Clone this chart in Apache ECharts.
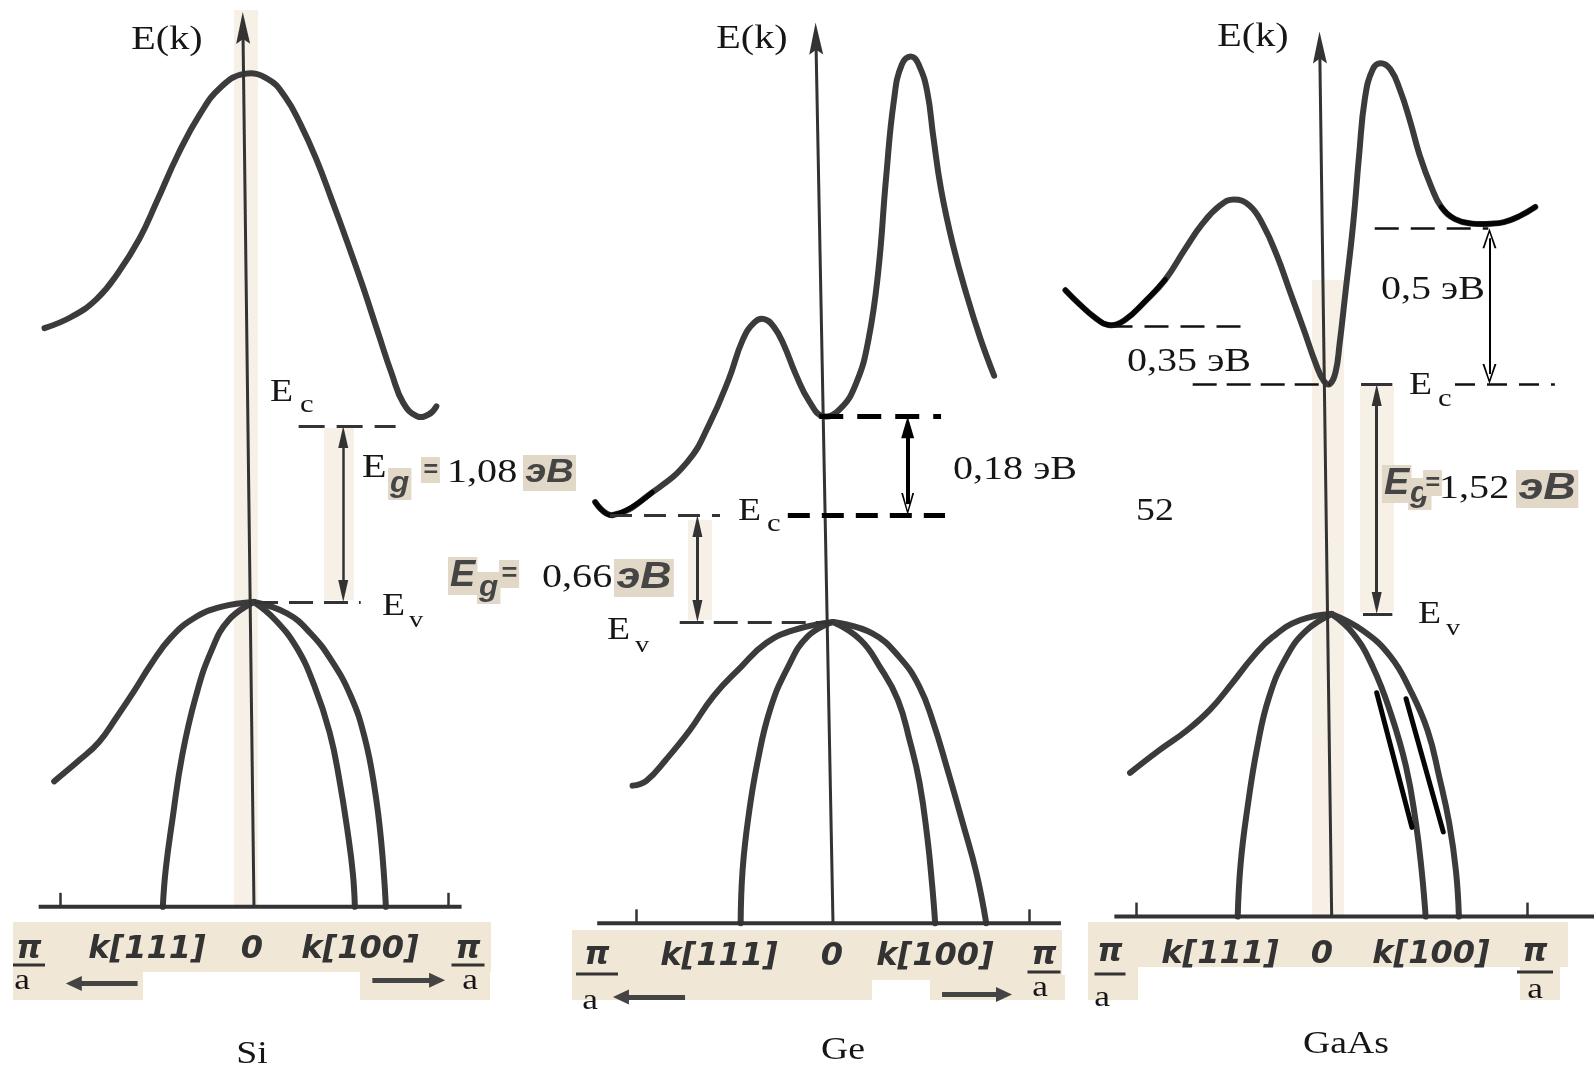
<!DOCTYPE html>
<html>
<head>
<meta charset="utf-8">
<script src="https://cdn.jsdelivr.net/npm/echarts@6/dist/echarts.min.js"></script>
<style>
  html, body { margin: 0; padding: 0; background: #fff; }
  #chart { width: 1594px; height: 1068px; }
</style>
</head>
<body>
<div id="chart"></div>
<script>
// k in units of pi/a, E in eV counted from the valence band top Ev of each crystal

const materials = ['Si', 'Ge', 'GaAs']
const kLabels = ['k[111]', '0', 'k[100]']
const gapLabels = ['1,08', '0,66', '1,52']
const sideGapLabels = ['0,18', '0,35', '0,5']

const ecLevel = [1.08, 0.66, 1.52]      // conduction band bottom
const kAxisLevel = [-1.87, -1.86, -2.0] // where the k axis is drawn
const geGammaLevel = 1.27
const gaasSideLevels = [1.90, 2.55]     // L and X valleys

// Si
const siUpper = [[-1.08,1.68],[-0.94,1.75],[-0.81,1.86],[-0.70,2.02],[-0.59,2.23],[-0.50,2.46],[-0.39,2.75],[-0.28,2.99],[-0.17,3.16],[-0.05,3.24],[0.07,3.21],[0.16,3.10],[0.24,2.93],[0.32,2.72],[0.40,2.47],[0.48,2.21],[0.56,1.94],[0.64,1.65],[0.71,1.40],[0.77,1.22],[0.84,1.14],[0.90,1.15],[0.94,1.20]]
const siOuterL = [[0,0],[-0.17,-0.03],[-0.31,-0.10],[-0.43,-0.22],[-0.53,-0.38],[-0.62,-0.55],[-0.71,-0.71],[-0.80,-0.86],[-0.90,-0.97],[-1.03,-1.10]]
const siInnerL = [[0,0],[-0.13,-0.11],[-0.22,-0.30],[-0.30,-0.58],[-0.37,-0.94],[-0.42,-1.33],[-0.455,-1.64],[-0.47,-1.87]]
const siInnerR = [[0,0],[0.11,-0.11],[0.22,-0.28],[0.31,-0.51],[0.39,-0.80],[0.44,-1.09],[0.485,-1.43],[0.51,-1.67],[0.52,-1.87]]
const siOuterR = [[0,0],[0.17,-0.07],[0.29,-0.19],[0.40,-0.36],[0.50,-0.58],[0.57,-0.83],[0.62,-1.13],[0.655,-1.46],[0.68,-1.87]]

// Ge
const geUpper = [[-1.21,0.74],[-1.12,0.66],[-0.92,0.80],[-0.74,0.99],[-0.63,1.22],[-0.53,1.50],[-0.46,1.74],[-0.40,1.85],[-0.35,1.87],[-0.30,1.82],[-0.25,1.71],[-0.19,1.53],[-0.12,1.36],[-0.05,1.27],[0.04,1.32],[0.12,1.48],[0.18,1.74],[0.23,2.16],[0.27,2.74],[0.31,3.22],[0.35,3.44],[0.40,3.49],[0.44,3.43],[0.48,3.27],[0.51,3.00],[0.55,2.67],[0.61,2.33],[0.68,2.02],[0.75,1.75],[0.82,1.52]]
const geOuterL = [[0,0],[-0.20,-0.05],[-0.34,-0.13],[-0.47,-0.28],[-0.61,-0.46],[-0.73,-0.67],[-0.85,-0.85],[-0.95,-0.98],[-1.02,-1.01]]
const geInnerL = [[0,0],[-0.13,-0.09],[-0.23,-0.28],[-0.32,-0.54],[-0.385,-0.87],[-0.43,-1.20],[-0.46,-1.53],[-0.47,-1.86]]
const geInnerR = [[0,0],[0.14,-0.11],[0.24,-0.28],[0.33,-0.48],[0.39,-0.73],[0.44,-0.99],[0.48,-1.33],[0.505,-1.63],[0.52,-1.86]]
const geOuterR = [[0,0],[0.20,-0.07],[0.34,-0.22],[0.44,-0.40],[0.51,-0.62],[0.58,-0.90],[0.66,-1.24],[0.73,-1.55],[0.78,-1.86]]

// GaAs
const gaasUpper = [[-1.36,2.14],[-1.29,2.05],[-1.21,1.96],[-1.14,1.91],[-1.06,1.94],[-0.95,2.07],[-0.85,2.21],[-0.75,2.41],[-0.66,2.58],[-0.57,2.70],[-0.50,2.74],[-0.42,2.70],[-0.35,2.57],[-0.28,2.37],[-0.21,2.12],[-0.14,1.87],[-0.08,1.65],[-0.04,1.54],[-0.01,1.52],[0.02,1.60],[0.04,1.78],[0.07,2.12],[0.11,2.58],[0.14,3.03],[0.17,3.41],[0.21,3.60],[0.25,3.64],[0.30,3.60],[0.35,3.46],[0.40,3.26],[0.45,3.03],[0.51,2.82],[0.56,2.69],[0.63,2.61],[0.72,2.58],[0.81,2.58],[0.88,2.59],[0.96,2.63],[1.04,2.69]]
const gaasOuterL = [[0,0],[-0.16,-0.04],[-0.30,-0.15],[-0.40,-0.28],[-0.51,-0.46],[-0.62,-0.63],[-0.74,-0.77],[-0.88,-0.90],[-1.03,-1.05]]
const gaasInnerL = [[0,0],[-0.13,-0.11],[-0.23,-0.28],[-0.32,-0.55],[-0.38,-0.88],[-0.43,-1.28],[-0.465,-1.65],[-0.48,-2.00]]
const gaasInnerR = [[0,0],[0.11,-0.13],[0.21,-0.35],[0.30,-0.65],[0.38,-1.01],[0.43,-1.38],[0.46,-1.70],[0.48,-2.00]]
const gaasOuterR = [[0,0],[0.16,-0.11],[0.30,-0.28],[0.40,-0.50],[0.49,-0.77],[0.55,-1.08],[0.60,-1.38],[0.635,-1.70],[0.65,-2.00]]
const gaasRetouchInner = [[0.23,-0.52],[0.41,-1.41]]
const gaasRetouchOuter = [[0.38,-0.56],[0.57,-1.44]]

const bands = [
    [siUpper, siOuterL, siInnerL, siInnerR, siOuterR],
    [geUpper, geOuterL, geInnerL, geInnerR, geOuterR],
    [gaasUpper, gaasOuterL, gaasInnerL, gaasInnerR, gaasOuterR]
]

// where each panel sits on the page: k=0 column, px per pi/a, Ev row, px per eV
const panels = [
    { x0: 254, kpx: 194, yEv: 602, epx: 163, kMin: -1.3, kMax: 1.3, eMin: -2.5, eMax: 3.65 },
    { x0: 833, kpx: 196.5, yEv: 622, epx: 162, kMin: -1.3, kMax: 1.3, eMin: -2.5, eMax: 3.75 },
    { x0: 1332, kpx: 196, yEv: 614, epx: 151.3, kMin: -1.4, kMax: 1.34, eMin: -2.2, eMax: 3.95 }
]

const SERIF = '"Liberation Serif", "DejaVu Serif", serif'
const SANS = '"Liberation Sans", Arial, sans-serif'
const DSANS = '"DejaVu Sans", sans-serif'
const INK = '#3b3b3b'
const BEIGE = '#f1e7d6'
const PALE = '#f6f0e6'
const TAG = '#e2d8c8'

const headFilled = 'path://M5,0L10,22L0,22Z'
const headAxis = 'path://M5,0L10,26L5,22L0,26Z'
const headOpen = 'path://M5,0L10,16L8.6,16L5,3.6L1.4,16L0,16Z'

const seg = (a, b, style, s0, s1, size) => [
    { coord: a, symbol: s0 || 'none', symbolSize: size || 10, lineStyle: style },
    { coord: b, symbol: s1 || 'none', symbolSize: size || 10 }
]

// vertical double arrow, shortened so that the heads touch the levels
const vArrow = (p, k, eTop, eBottom, style, headTop, headBottom, size) => {
    const d = size[1] / 2 / p.epx
    return seg([k, eTop - d], [k, eBottom + d], style, headTop, headBottom, size)
}

const hArrow = (p, k1, k2, e) => {
    const d = 8 / p.kpx * Math.sign(k2 - k1)
    return seg([k1, e], [k2 - d, e], { color: '#444', width: 5, type: 'solid' }, 'none', headFilled, [15, 16])
}

const solid = (w, c) => ({ color: c || '#333', width: w, type: 'solid' })
const dashed = (w, c, dash) => ({ color: c || '#333', width: w, type: dash || [24, 12] })

const ticks = (i) => {
    const p = panels[i], e = kAxisLevel[i], h = 14 / p.epx
    return [seg([-1, e], [-1, e + h], solid(2.5)), seg([1, e], [1, e + h], solid(2.5))]
}

const axisArrow = (i, kTop, eTop) => {
    const p = panels[i]
    return seg([0, kAxisLevel[i]], [kTop, eTop - 16 / p.epx], solid(3), 'none', headAxis, [14, 32])
}

const marks = [
    [
        axisArrow(0, -0.057, 3.62),
        ...ticks(0),
        seg([0.23, ecLevel[0]], [0.73, ecLevel[0]], dashed(3, '#333', [26, 12])),
        seg([0, 0], [0.55, 0], dashed(3, '#333', [24, 11])),
        vArrow(panels[0], 0.46, ecLevel[0], 0, solid(2.5), headFilled, headFilled, [10, 22]),
        hArrow(panels[0], -0.60, -0.97, -2.34),
        hArrow(panels[0], 0.61, 0.985, -2.32)
    ],
    [
        axisArrow(1, -0.087, 3.70),
        ...ticks(1),
        seg([-1.135, ecLevel[1]], [-0.575, ecLevel[1]], dashed(3, '#333', [22, 12])),
        seg([-0.23, ecLevel[1]], [0.57, ecLevel[1]], dashed(5, '#000', [22, 12])),
        seg([-0.07, geGammaLevel], [0.55, geGammaLevel], dashed(5, '#000', [24, 14])),
        vArrow(panels[1], 0.38, geGammaLevel, ecLevel[1], solid(4, '#000'), headFilled, headOpen, [13, 22]),
        vArrow(panels[1], -0.69, ecLevel[1], 0, solid(3), headFilled, headFilled, [10, 22]),
        seg([-0.78, 0], [0, 0], dashed(3, '#333', [24, 10])),
        hArrow(panels[1], -0.753, -1.12, -2.315),
        hArrow(panels[1], 0.555, 0.911, -2.30)
    ],
    [
        axisArrow(2, -0.061, 3.85),
        ...ticks(2),
        seg([-1.14, gaasSideLevels[0]], [-0.45, gaasSideLevels[0]], dashed(2.5, '#111', [24, 12])),
        seg([0.22, gaasSideLevels[1]], [0.80, gaasSideLevels[1]], dashed(2.5, '#111', [24, 12])),
        seg([-0.71, ecLevel[2]], [-0.01, ecLevel[2]], dashed(2.5, '#111', [24, 10])),
        seg([0.15, ecLevel[2]], [0.31, ecLevel[2]], solid(3)),
        seg([0.63, ecLevel[2]], [1.14, ecLevel[2]], dashed(2.5, '#111', [20, 12])),
        vArrow(panels[2], 0.806, gaasSideLevels[1], ecLevel[2], solid(2, '#000'), headOpen, headOpen, [14, 20]),
        vArrow(panels[2], 0.23, ecLevel[2], 0, solid(3), headFilled, headFilled, [10, 22]),
        seg([0.16, 0], [0.31, 0], solid(3))
    ]
]

const axisSpan = [[-1.11, 1.07], [-1.2, 1.16], [-1.11, 1.34]]

const grids = panels.map(p => ({
    left: p.x0 + p.kpx * p.kMin,
    width: p.kpx * (p.kMax - p.kMin),
    top: p.yEv - p.epx * p.eMax,
    height: p.epx * (p.eMax - p.eMin)
}))

// a band curve: the points go through the axes with api.coord and are joined by a smooth spline
const curve = (i, data, color, width) => ({
    type: 'custom', xAxisIndex: i, yAxisIndex: i, data, silent: true, z: 3,
    renderItem: (params, api) => params.dataIndex !== 0 ? null : {
        type: 'polyline',
        shape: { points: data.map(d => api.coord(d)), smooth: 0.45 },
        style: { stroke: color || INK, lineWidth: width || 6, fill: null, lineCap: 'round', lineJoin: 'round' }
    }
})

const series = []
bands.forEach((list, i) => {
    list.forEach(d => series.push(curve(i, d)))
    series.push({
        type: 'line', xAxisIndex: i, yAxisIndex: i, z: 4,
        data: axisSpan[i].map(k => [k, kAxisLevel[i]]),
        symbol: 'none', clip: false, silent: true,
        lineStyle: { color: '#333', width: 4 },
        markLine: {
            silent: true, animation: false, symbol: ['none', 'none'],
            label: { show: false }, emphasis: { disabled: true },
            data: marks[i]
        }
    })
})
// retouched (pure black) pieces of the scan
series.push(curve(1, geUpper.slice(0, 3), '#050505', 5))
series.push(curve(2, gaasUpper.slice(0, 7), '#050505', 5))
series.push(curve(2, gaasUpper.slice(32), '#050505', 5))
series.push(curve(2, gaasRetouchInner, '#050505', 5))
series.push(curve(2, gaasRetouchOuter, '#050505', 5))

// ---- text and paper patches ----
const T = (x, y, text, o = {}) => ({
    type: 'text', x, y, z: 50, silent: true, scaleX: o.sx ?? (o.ff ? 1 : 1.18),
    style: {
        text, fontFamily: o.ff || SERIF, fontSize: o.fs || 34,
        fontWeight: o.bold ? 'bold' : 'normal', fontStyle: o.it ? 'italic' : 'normal',
        fill: o.c || '#161616',
        align: o.al || 'left', verticalAlign: 'middle',
        textAlign: o.al || 'left', textVerticalAlign: 'middle',
        backgroundColor: o.bg, padding: o.bg ? [1, 2, 1, 2] : 0
    }
})
const tag = (x, y, text, fs, sx) => T(x, y, text, { ff: SANS, bold: true, it: true, fs, c: '#454545', bg: TAG, sx: sx || 1.05 })
const kTxt = (x, y, text) => T(x, y, text, { ff: DSANS, bold: true, it: true, fs: 32, c: '#333', al: 'center', sx: 1 })
const bar = (x1, x2, y) => ({ type: 'line', z: 50, silent: true, shape: { x1, y1: y, x2, y2: y }, style: { stroke: '#333', lineWidth: 3 } })
const patch = (x, y, w, h, c) => ({ type: 'rect', z: 0, silent: true, shape: { x, y, width: w, height: h }, style: { fill: c || BEIGE } })
const piOverA = (x, yPi, yBar, yA, xA, w) => [
    kTxt(x, yPi, 'π'), bar(x - w / 2, x + w / 2, yBar), T(xA, yA, 'a', { fs: 30, al: 'center' })
]

const graphic = [
    // paper
    patch(234, 10, 24, 895, PALE), patch(324, 428, 30, 172, PALE),
    patch(13, 922, 478, 50), patch(13, 968, 130, 32), patch(360, 968, 130, 32),
    patch(688, 520, 24, 100, PALE), patch(572, 930, 490, 50), patch(572, 975, 300, 25), patch(930, 975, 135, 25),
    patch(1312, 280, 32, 635, PALE), patch(1360, 386, 34, 226, PALE),
    patch(1088, 922, 480, 45), patch(1088, 965, 50, 35), patch(1520, 965, 40, 35),

    // Si
    T(167, 40, 'E(k)', { al: 'center' }),
    T(270, 393, 'E', { fs: 32 }), T(300, 405, 'c', { fs: 26 }),
    T(362, 468, 'E', { fs: 34 }), tag(388, 484, 'g', 30), tag(421, 470, '=', 24),
    T(447, 473, gapLabels[0], { fs: 34 }), tag(523, 473, 'эВ', 34, 1.12),
    T(382, 607, 'E', { fs: 32 }), T(409, 621, 'v', { fs: 24 }),

    // Ge
    T(752, 39, 'E(k)', { al: 'center' }),
    T(738, 512, 'E', { fs: 32 }), T(767, 524, 'c', { fs: 26 }),
    T(1015, 470, sideGapLabels[0] + ' эВ', { al: 'center' }),
    tag(448, 576, 'E', 36), tag(477, 588, 'g', 30), tag(499, 574, '=', 26),
    T(542, 578, gapLabels[1], { fs: 34 }), tag(614, 578, 'эВ', 36, 1.2),
    T(607, 631, 'E', { fs: 32 }), T(635, 646, 'v', { fs: 24 }),

    // GaAs
    T(1253, 37, 'E(k)', { al: 'center' }),
    T(1189, 362, sideGapLabels[1] + ' эВ', { al: 'center' }),
    T(1433, 290, sideGapLabels[2] + ' эВ', { al: 'center' }),
    T(1409, 386, 'E', { fs: 32 }), T(1438, 399, 'c', { fs: 26 }),
    tag(1382, 484, 'E', 36), tag(1408, 494, 'g', 30), tag(1423, 483, '=', 24),
    T(1439, 489, gapLabels[2], { fs: 34 }), tag(1516, 489, 'эВ', 36, 1.25),
    T(1155, 512, '52', { fs: 32, al: 'center' }),
    T(1418, 615, 'E', { fs: 32 }), T(1446, 629, 'v', { fs: 24 }),

    // k axes
    ...piOverA(29, 950, 965, 981, 22, 32), kTxt(147, 950, kLabels[0]), kTxt(252, 950, kLabels[1]), kTxt(360, 950, kLabels[2]),
    ...piOverA(468, 950, 965, 981, 470, 33),
    T(252, 1055, materials[0], { fs: 32, al: 'center' }),
    ...piOverA(597, 956, 974, 1001, 590, 42), kTxt(719, 957, kLabels[0]), kTxt(832, 957, kLabels[1]), kTxt(935, 957, kLabels[2]),
    ...piOverA(1044, 956, 972, 988, 1040, 33),
    T(843, 1051, materials[1], { fs: 32, al: 'center' }),
    ...piOverA(1110, 953, 974, 998, 1102, 31), kTxt(1220, 955, kLabels[0]), kTxt(1322, 955, kLabels[1]), kTxt(1431, 955, kLabels[2]),
    ...piOverA(1535, 953, 972, 990, 1535, 36),
    T(1346, 1045, materials[2], { fs: 32, al: 'center' })
]

const chart = echarts.init(document.getElementById('chart'))
chart.setOption({
    backgroundColor: '#ffffff',
    animation: false,
    grid: grids,
    xAxis: panels.map((p, i) => ({ type: 'value', gridIndex: i, min: p.kMin, max: p.kMax, show: false })),
    yAxis: panels.map((p, i) => ({ type: 'value', gridIndex: i, min: p.eMin, max: p.eMax, show: false })),
    series,
    graphic
})
</script>
</body>
</html>
